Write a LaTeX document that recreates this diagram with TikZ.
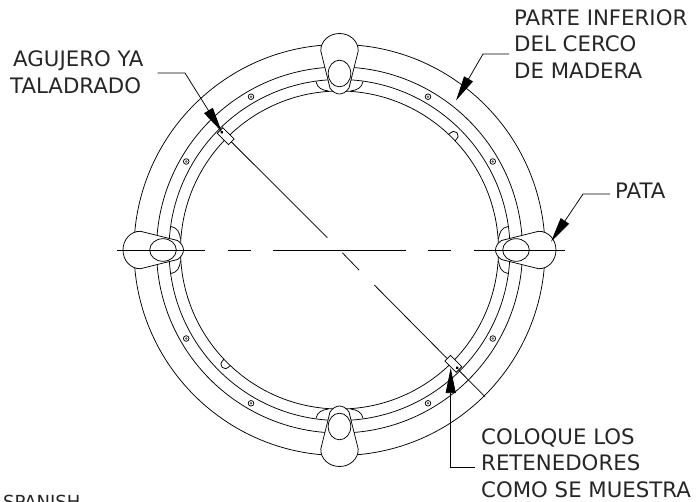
\documentclass[tikz,border=0pt]{standalone}
\usepackage{fontspec}
\setmainfont{DejaVu Sans}
\usetikzlibrary{calc,arrows.meta}
\tikzset{
  ringline/.style={line width=0.75pt,draw=black},
  callout/.style={font=\fontsize{21.3}{26.4}\selectfont,anchor=base west,inner sep=0pt,align=left,text=black!85},
  leader/.style={line width=0.75pt,draw=black,-{Triangle[length=25pt,width=10pt]}},
  retainer/.style={ringline,fill=white},
}
\begin{document}
\begin{tikzpicture}[x=1pt,y=1pt,yscale=-1]
  \useasboundingbox (0,0) rectangle (696,501);
  \coordinate (mid) at (339.5,250);

  % rings and screws
  \begin{scope}[shift={(mid)}]
    \foreach \r in {205.5,183,170.5,159} \draw[ringline] (0,0) circle (\r);
    \foreach \a in {30,60,120,150,210,240,300,330} {
      \draw[ringline] (\a:177) circle (2.8);
      \fill[black!60] (\a:177) circle (1.3);
    }
    % small tabs
    \foreach \a in {-45,135} {
      \begin{scope}[rotate=\a]
        \draw[ringline] (159,-4.5) .. controls (164,-4.5) and (166,-3) .. (166,0)
          .. controls (166,3) and (164,4.5) .. (159,4.5);
      \end{scope}
    }
    % legs
    \foreach \a in {0,90,180,270} {
      \begin{scope}[rotate=\a]
        \draw[ringline] (-23.5,-168.3) .. controls (-22,-162) and (-18,-160) .. (-11,-159);
        \draw[ringline] (23.5,-168.3) .. controls (22,-162) and (18,-160) .. (11,-159);
        \draw[ringline,fill=white] (-18.7,-199) .. controls (-19,-209) and (-10.3,-216.5) .. (0,-216.5)
          .. controls (10.3,-216.5) and (19,-209) .. (18.7,-199)
          -- (9.5,-162) .. controls (7,-158) and (3,-156) .. (0,-156)
          .. controls (-3,-156) and (-7,-158) .. (-9.5,-162) -- cycle;
        \draw[ringline] (0,-176.5) ellipse [x radius=11.3,y radius=13.3];
      \end{scope}
    }
  \end{scope}

  % centre lines
  \draw[ringline] (117,250) -- (205,250);
  \draw[ringline] (228,250) -- (251,250);
  \draw[ringline] (273,250) -- (406,250);
  \draw[ringline] (428,250) -- (451,250);
  \draw[ringline] (474,250) -- (565,250);
  \draw[ringline] (221,131.5) -- (327.3,237.7);
  \draw[ringline] (342.3,252.7) -- (359,270);
  \draw[ringline] (374.3,285) -- (485,396.7);

  % retainers on the diagonal
  \begin{scope}[shift={(mid)}]
    \foreach \a in {45,225} {
      \begin{scope}[rotate=\a]
        \draw[retainer] (153,-4) rectangle (169,4);
        \fill (166.5,0) circle (1.6);
      \end{scope}
    }
  \end{scope}

  % labels
  \node[callout] (cercotxt) at (514,78) {PARTE INFERIOR\\DEL CERCO\\DE MADERA};
  \node[callout] (agujerotxt) at (10,93) {\hspace*{3pt}AGUJERO YA\\TALADRADO};
  \node[callout] (patatxt) at (615,198) {PATA};
  \node[callout] (coloquetxt) at (481,497) {COLOQUE LOS\\RETENEDORES\\COMO SE MUESTRA};
  \node[callout,font=\fontsize{18}{22}\selectfont] (spanishtxt) at (3,508) {SPANISH};

  % leaders
  \coordinate (cercobend) at (483,54);
  \coordinate (agujerobend) at (185,73);
  \coordinate (patabend) at (583,194);
  \coordinate (coloquebend) at (450.7,467);
  \coordinate (cercotip) at (456,100.5);
  \coordinate (agujerotip) at (221.7,131.7);
  \coordinate (patatip) at (551,241.7);
  \coordinate (coloquetip) at (450.7,368);
  \draw[leader] ($(cercotxt.west|-cercobend)+(-5,0)$) -- (cercobend) -- (cercotip);
  \draw[leader] ($(agujerotxt.east|-agujerobend)+(14,0)$) -- (agujerobend) -- (agujerotip);
  \draw[leader] ($(patatxt.west|-patabend)+(-5,0)$) -- (patabend) -- (patatip);
  \draw[leader] ($(coloquetxt.west|-coloquebend)+(-6,0)$) -- (coloquebend) -- (coloquetip);
\end{tikzpicture}
\end{document}
